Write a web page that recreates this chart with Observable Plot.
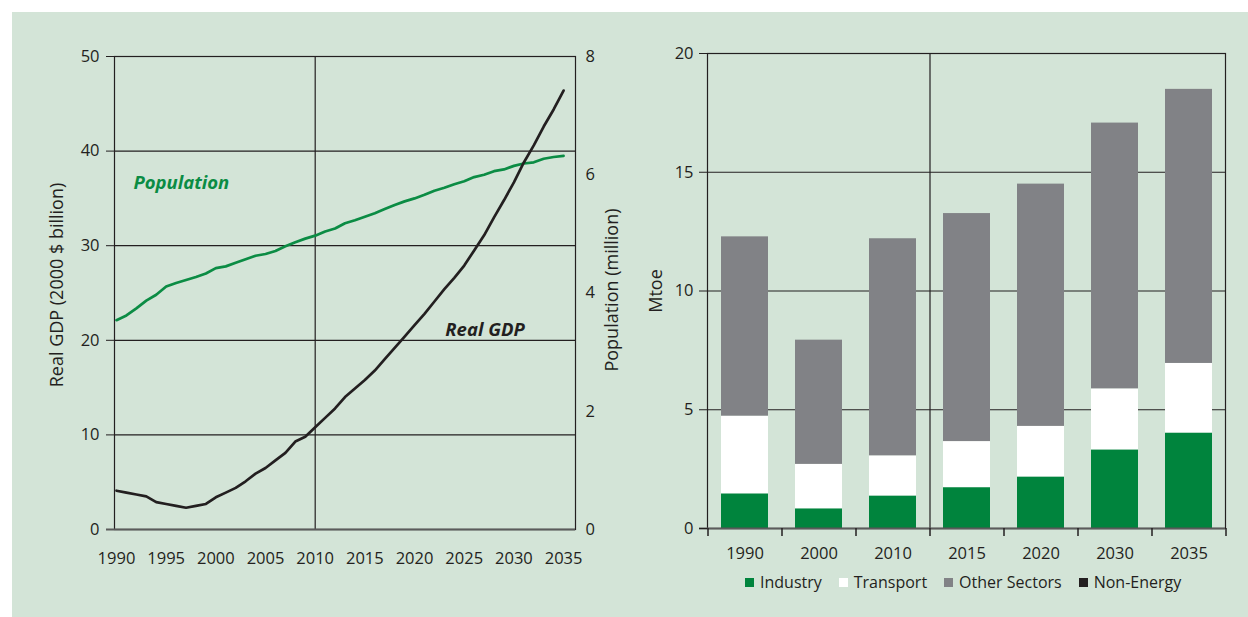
<!DOCTYPE html>
<html>
<head>
<meta charset="utf-8">
<script src="https://cdn.jsdelivr.net/npm/d3@7"></script>
<script src="https://cdn.jsdelivr.net/npm/@observablehq/plot@0.6"></script>
<style>
html,body{margin:0;padding:0;background:#ffffff;width:1248px;height:617px;overflow:hidden;font-family:"Open Sans",sans-serif;}
#bg{position:absolute;left:12px;top:12px;width:1236px;height:605px;background:#d3e4d7;}
#left,#right{position:absolute;top:0;}
#left{left:0;}
#right{left:640px;}
#legend{position:absolute;left:745px;top:572px;height:20px;display:flex;align-items:center;font-size:16px;color:#231f20;white-space:nowrap;}
#legend .item{display:flex;align-items:center;margin-right:17px;}
#legend .sw{width:9px;height:9px;margin-right:6px;}
</style>
</head>
<body>
<div id="bg"></div>
<div id="left"></div>
<div id="right"></div>
<div id="legend"></div>
<script>
// ---------- Left panel data ----------
const years = [1990,1991,1992,1993,1994,1995,1996,1997,1998,1999,
               2000,2001,2002,2003,2004,2005,2006,2007,2008,2009,
               2010,2011,2012,2013,2014,2015,2016,2017,2018,2019,
               2020,2021,2022,2023,2024,2025,2026,2027,2028,2029,
               2030,2031,2032,2033,2034,2035];
const realGDP = [4.1,3.9,3.7,3.5,2.9,2.7,2.5,2.3,2.5,2.7,
                 3.4,3.9,4.4,5.1,5.9,6.5,7.3,8.1,9.3,9.8,
                 10.8,11.8,12.8,14.0,14.9,15.8,16.8,18.0,19.2,20.4,
                 21.6,22.8,24.1,25.4,26.6,27.9,29.5,31.1,33.0,34.8,
                 36.7,38.8,40.6,42.6,44.4,46.4];
const population = [3.54,3.62,3.74,3.87,3.97,4.11,4.17,4.22,4.27,4.33,
                     4.42,4.45,4.51,4.57,4.63,4.66,4.71,4.79,4.86,4.92,
                     4.97,5.04,5.09,5.18,5.23,5.29,5.35,5.42,5.49,5.55,
                     5.60,5.66,5.73,5.78,5.84,5.89,5.96,6.00,6.06,6.09,
                     6.15,6.19,6.21,6.27,6.30,6.32];
const gdpTicks = [0,10,20,30,40,50];
const popTicks = [0,2,4,6,8];
const yearTicks = [1990,1995,2000,2005,2010,2015,2020,2025,2030,2035];

// ---------- Right panel data ----------
const barYears = ["1990","2000","2010","2015","2020","2030","2035"];
const industry  = [1.46,0.83,1.37,1.72,2.17,3.31,4.02];
const transport = [3.27,1.87,1.69,1.94,2.13,2.57,2.93];
const otherSect = [7.55,5.23,9.14,9.60,10.20,11.19,11.54];
const nonEnergy = [0,0,0,0,0,0,0];
const sectors = ["Industry","Transport","Other Sectors","Non-Energy"];
const sectorColors = ["#00843d","#ffffff","#818286","#231f20"];
const mtoeTicks = [0,5,10,15,20];

const ink = "#231f20";
const font = "'Open Sans', sans-serif";
const popFactor = 50 / 8;

// ---------- Left chart ----------
const lineData = years.map((y, i) => ({year: y, gdp: realGDP[i], pop: population[i] * popFactor}));

const left = Plot.plot({
  width: 640, height: 617,
  marginLeft: 114, marginRight: 65, marginTop: 56, marginBottom: 88,
  style: {background: "transparent", fontFamily: font, fontSize: "16.5px", color: ink},
  x: {domain: [1989.8, 2036.2]},
  y: {domain: [0, 50]},
  marks: [
    Plot.ruleY(gdpTicks.slice(1, -1), {stroke: ink, strokeWidth: 1.2}),
    Plot.ruleX([2010], {stroke: ink, strokeWidth: 1.2}),
    Plot.frame({stroke: ink, strokeWidth: 1.2}),
    Plot.axisY({ticks: gdpTicks, tickSize: 8, tickPadding: 7, tickFormat: "d", label: null, fontSize: 16.5}),
    Plot.axisY({anchor: "right", ticks: popTicks.map(d => d * popFactor), tickFormat: d => Math.round(d / popFactor), tickSize: 0, tickPadding: 10, label: null, fontSize: 16.5}),
    Plot.axisX({ticks: yearTicks, tickSize: 0, tickPadding: 19, dy: 4, tickFormat: "d", label: null, fontSize: 16.5}),
    Plot.ruleY([0], {stroke: "#5b5b5b", strokeWidth: 2.2, insetLeft: -8}),
    Plot.line(lineData, {x: "year", y: "pop", stroke: "#0b8c44", strokeWidth: 2.7}),
    Plot.line(lineData, {x: "year", y: "gdp", stroke: ink, strokeWidth: 2.7}),
    Plot.text(["Population"], {x: 1991.7, y: 36.6, text: d => d, textAnchor: "start", fill: "#0b8c44", fontSize: 18.5, fontWeight: "bold", fontStyle: "italic"}),
    Plot.text(["Real GDP"], {x: 2023.1, y: 21.1, text: d => d, textAnchor: "start", fill: ink, fontSize: 18.5, fontWeight: "bold", fontStyle: "italic"}),
    Plot.text(["Real GDP (2000 $ billion)"], {frameAnchor: "left", dx: -57, dy: -8, rotate: -90, text: d => d, textAnchor: "middle", lineAnchor: "middle", fill: ink, fontSize: 18}),
    Plot.text(["Population (million)"], {frameAnchor: "right", dx: 37, dy: -3, rotate: -90, text: d => d, textAnchor: "middle", lineAnchor: "middle", fill: ink, fontSize: 18})
  ]
});
document.getElementById("left").appendChild(left);

// ---------- Right chart ----------
const seriesVals = [industry, transport, otherSect, nonEnergy];
const tidy = [];
sectors.forEach((s, k) => barYears.forEach((yr, i) => tidy.push({year: yr, sector: s, value: seriesVals[k][i]})));

const halfStep = 37;
const right = Plot.plot({
  width: 608, height: 617,
  marginLeft: 67, marginRight: 23, marginTop: 53, marginBottom: 89,
  style: {background: "transparent", fontFamily: font, fontSize: "16.5px", color: ink},
  x: {domain: barYears, paddingInner: 0.365, paddingOuter: 0.1825},
  y: {domain: [0, 20]},
  color: {domain: sectors, range: sectorColors},
  marks: [
    Plot.ruleY(mtoeTicks.slice(1, -1), {stroke: ink, strokeWidth: 1.2}),
    Plot.barY(tidy, {x: "year", y: "value", fill: "sector"}),
    Plot.ruleX([barYears[3]], {x: d => d, dx: -halfStep, stroke: ink, strokeWidth: 1.2}),
    Plot.frame({stroke: ink, strokeWidth: 1.2}),
    Plot.ruleY([0], {stroke: "#5b5b5b", strokeWidth: 2.2, insetLeft: -8}),
    Plot.ruleX(barYears, {x: d => d, dx: -halfStep, y1: 0, y2: 0, insetBottom: -8, stroke: ink, strokeWidth: 1.5}),
    Plot.ruleX([barYears[barYears.length - 1]], {x: d => d, dx: halfStep, y1: 0, y2: 0, insetBottom: -8, stroke: ink, strokeWidth: 1.5}),
    Plot.axisY({ticks: mtoeTicks, tickSize: 8, tickPadding: 6, label: null, fontSize: 16.5}),
    Plot.axisX({tickSize: 0, tickPadding: 19, label: null, fontSize: 16.5}),
    Plot.text(["Mtoe"], {frameAnchor: "left", dx: -51.5, rotate: -90, text: d => d, textAnchor: "middle", lineAnchor: "middle", fill: ink, fontSize: 18})
  ]
});
document.getElementById("right").appendChild(right);

// ---------- Legend ----------
const legend = document.getElementById("legend");
sectors.forEach((s, i) => {
  const item = document.createElement("div");
  item.className = "item";
  const sw = document.createElement("div");
  sw.className = "sw";
  sw.style.background = sectorColors[i];
  const tx = document.createElement("span");
  tx.textContent = s;
  item.appendChild(sw);
  item.appendChild(tx);
  legend.appendChild(item);
});
</script>
</body>
</html>
